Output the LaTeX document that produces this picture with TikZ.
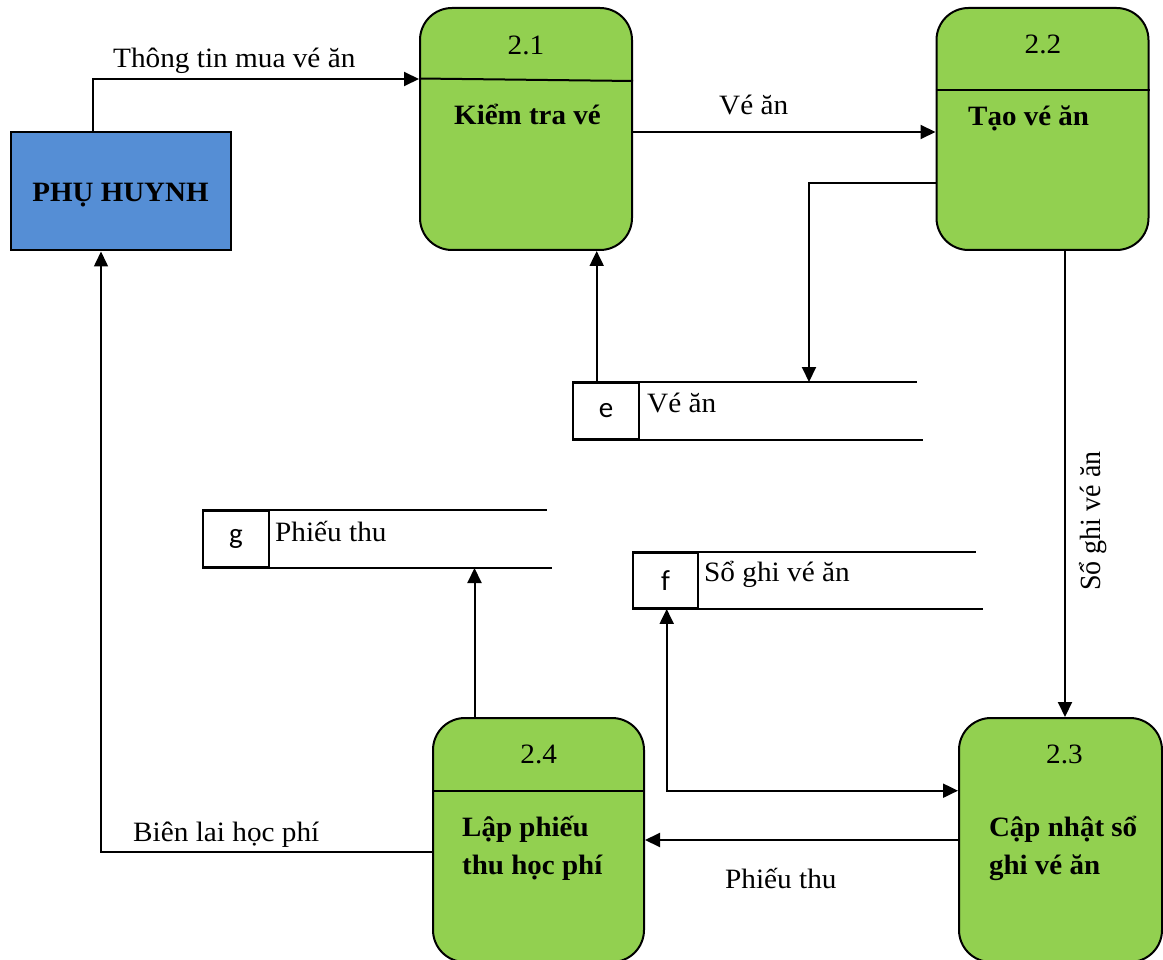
\documentclass[tikz,border=0pt]{standalone}
\usepackage{fontspec}
\setmainfont{Liberation Serif}
\newfontfamily\storefont{Carlito}
\usetikzlibrary{arrows.meta}
\definecolor{procgreen}{HTML}{92D050}
\definecolor{entblue}{HTML}{558ED5}
\tikzset{
  ln/.style={line width=2pt},
  arr/.style={ln,-{Triangle[length=15pt,width=14pt]}},
  arrboth/.style={ln,{Triangle[length=15pt,width=14pt]}-{Triangle[length=15pt,width=14pt]}},
  entity/.style={draw,ln,fill=entblue,minimum width=220pt,minimum height=118pt,inner sep=0pt},
  proc/.style={draw,ln,fill=procgreen,rounded corners=32pt,minimum width=212pt,minimum height=242pt,inner sep=0pt},
  txt/.style={inner sep=0pt,xscale=1.045,font=\fontsize{28}{34}\selectfont},
  btxt/.style={inner sep=0pt,xscale=1.035,font=\fontsize{28}{34}\selectfont\bfseries},
  storebox/.style={draw,ln,minimum width=66pt,minimum height=56pt,inner sep=0pt,font=\storefont\fontsize{29}{32}\selectfont},
}
\begin{document}
\begin{tikzpicture}[x=1pt,y=-1pt]
\useasboundingbox (0,0) rectangle (1163,960);

% external entity
\node[entity] (ph) at (121,191.5) {};
\node[btxt,anchor=base] (phl) at (120.5,201.7) {PHỤ HUYNH};

% processes
\node[proc] (p21) at (526,129) {};
\node[proc] (p22) at (1042.5,129) {};
\node[proc,minimum width=211pt,minimum height=244pt] (p24) at (538.5,840) {};
\node[proc,minimum width=203pt,minimum height=244pt] (p23) at (1060.5,840) {};

% process dividers
\draw[ln] ([yshift=50.5pt]p21.west) -- ([yshift=48pt]p21.east);
\draw[ln] ([yshift=39pt]p22.west) -- ([yshift=39pt]p22.east);
\draw[ln] ([yshift=49.3pt]p24.west) -- ([yshift=49.3pt]p24.east);

% process texts
\node[txt,anchor=base] (n21) at (526,55) {2.1};
\node[btxt,anchor=base west] (k21) at (454,125) {Kiểm tra vé};
\node[txt,anchor=base] (n22) at (1043,54) {2.2};
\node[btxt,anchor=base west] (k22) at (968,126) {Tạo vé ăn};
\node[txt,anchor=base] (n24) at (538.7,763) {2.4};
\node[btxt,anchor=base west] (k24a) at (462,836) {Lập phiếu};
\node[btxt,anchor=base west] (k24b) at (462,874) {thu học phí};
\node[txt,anchor=base] (n23) at (1064.5,763) {2.3};
\node[btxt,anchor=base west] (k23a) at (988.8,836) {Cập nhật sổ};
\node[btxt,anchor=base west] (k23b) at (988.8,874) {ghi vé ăn};

% data stores
\node[storebox] (se) at (606,411) {e};
\draw[ln] (se.north west) -- ++(345,0);
\draw[ln] (se.south west) -- ++(351,0);
\node[txt,anchor=base west] (le) at (647,412) {Vé ăn};

\node[storebox] (sg) at (236,539) {g};
\draw[ln] (sg.north west) -- ++(345,0);
\draw[ln] (sg.south west) -- ++(350,0);
\node[txt,anchor=base west] (lg) at (275,541.7) {Phiếu thu};

\node[storebox,minimum width=65pt,minimum height=55.3pt] (sf) at (665.5,580.3) {f};
\draw[ln] (sf.north west) -- ++(344,0);
\draw[ln] (sf.south west) -- ++(351,0);
\node[txt,anchor=base west] (lf) at (704,581.7) {Sổ ghi vé ăn};

% data flows
\draw[arr] ([xshift=-28pt]ph.north) |- ([yshift=50pt]p21.west);
\node[txt,anchor=base west] (f1) at (113,68) {Thông tin mua vé ăn};

\draw[arr] ([yshift=-3pt]p21.east) -- ([yshift=-3pt]p22.west);
\node[txt,anchor=base west] (f2) at (719,115) {Vé ăn};

\draw[arr] ([yshift=-53.7pt]p22.west) -| ([xshift=203pt]se.north);
\draw[arr] ([xshift=-9.3pt]se.north) -- ([xshift=70.7pt]p21.south);

\draw[arr] ([xshift=22.5pt]p22.south) -- ([xshift=4.5pt]p23.north);
\node[txt,anchor=base,rotate=90] (f3) at (1100,521) {Sổ ghi vé ăn};

\draw[arrboth] ([xshift=1.2pt]sf.south) |- ([yshift=49.3pt]p23.west);

\draw[arr] (p23.west) -- (p24.east);
\node[txt,anchor=base west] (f4) at (725,888) {Phiếu thu};

\draw[arr] ([xshift=-64pt]p24.north) -- ([xshift=238.5pt]sg.south);

\draw[arr,line width=1.6pt] ([yshift=-11.7pt]p24.west) -| ([xshift=-20pt]ph.south);
\node[txt,anchor=base west] (f5) at (133,841.7) {Biên lai học phí};
\end{tikzpicture}
\end{document}
